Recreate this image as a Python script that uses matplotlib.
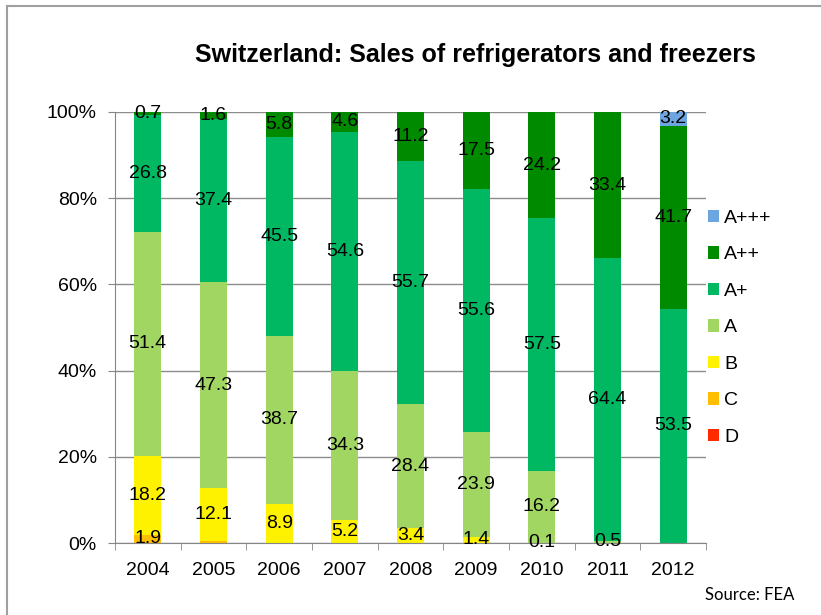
import matplotlib
matplotlib.use("Agg")
import matplotlib.pyplot as plt
from matplotlib.patches import Patch
from matplotlib.lines import Line2D
import numpy as np

plt.rcParams['font.family'] = ['Liberation Sans', 'DejaVu Sans']

years = ["2004", "2005", "2006", "2007", "2008", "2009", "2010", "2011", "2012"]
classes = ["D", "C", "B", "A", "A+", "A++", "A+++"]

# sales share per class (values as printed on the chart, nan = not present)
d_vals = [np.nan] * 9
c_vals = [1.9, 0.5, np.nan, np.nan, np.nan, np.nan, np.nan, np.nan, np.nan]
b_vals = [18.2, 12.1, 8.9, 5.2, 3.4, 1.4, 0.1, np.nan, np.nan]
a_vals = [51.4, 47.3, 38.7, 34.3, 28.4, 23.9, 16.2, 0.5, np.nan]
ap_vals = [26.8, 37.4, 45.5, 54.6, 55.7, 55.6, 57.5, 64.4, 53.5]
app_vals = [0.7, 1.6, 5.8, 4.6, 11.2, 17.5, 24.2, 33.4, 41.7]
appp_vals = [np.nan, np.nan, np.nan, np.nan, np.nan, np.nan, np.nan, np.nan, 3.2]
# small segment without a printed label
no_label = {("C", "2005")}

colors = {"D": "#FF2A00", "C": "#FFBF00", "B": "#FFF200", "A": "#A2D662",
          "A+": "#00B862", "A++": "#008A00", "A+++": "#6CA5DF"}

series = [d_vals, c_vals, b_vals, a_vals, ap_vals, app_vals, appp_vals]
raw = np.nan_to_num(np.array(series, dtype=float))
totals = raw.sum(axis=0)
shares = raw / totals * 100

fig = plt.figure(figsize=(8.21, 6.15), dpi=100)
ax = fig.add_axes([0.140, 0.117, 0.720, 0.701])

x = np.arange(len(years))
bottom = np.zeros(len(years))
for name, vals, sh in zip(classes, series, shares):
    ax.bar(x, sh, 0.41, bottom=bottom, color=colors[name], zorder=2)
    for i, v in enumerate(vals):
        if np.isnan(v) or (name, years[i]) in no_label:
            continue
        ax.text(x[i], bottom[i] + sh[i] / 2, f"{v:.1f}", ha="center",
                va="center", fontsize=14, color="black", zorder=3)
    bottom += sh

ax.set_xlim(-0.5, len(years) - 0.5)
ax.set_ylim(0, 100)
ax.set_yticks(np.arange(0, 101, 20))
ax.set_yticklabels([f"{t}%" for t in range(0, 101, 20)], fontsize=14)
ax.set_xticks(x)
ax.set_xticklabels(years, fontsize=14)
ax.set_xticks(np.arange(-0.5, len(years)), minor=True)
ax.tick_params(axis="x", which="major", length=0, pad=14)
ax.tick_params(axis="x", which="minor", length=5, color="#868686")
ax.tick_params(axis="y", length=5, color="#868686", pad=8)
ax.yaxis.grid(True, color="#8c8c8c", linewidth=1, zorder=0)
ax.set_axisbelow(True)
for s in ["top", "right"]:
    ax.spines[s].set_visible(False)
for s in ["left", "bottom"]:
    ax.spines[s].set_color("#868686")

fig.text(0.5786, 0.91, "Switzerland: Sales of refrigerators and freezers",
         ha="center", va="center", fontsize=18, fontweight="bold")

handles = [Patch(facecolor=colors[c], edgecolor="none") for c in classes[::-1]]
fig.legend(handles, classes[::-1], loc="center left",
           bbox_to_anchor=(0.862, 0.467), frameon=False, fontsize=14,
           handlelength=0.6, handleheight=0.6, handletextpad=0.25,
           labelspacing=1.0, borderpad=0, borderaxespad=0)

fig.text(0.968, 0.033, "Source: FEA", ha="right", va="center",
         fontsize=12, family=["Lato", "DejaVu Sans"])

# outer chart frame (top and left edges visible)
fig.add_artist(Line2D([0.0085, 0.0085], [0, 0.991], transform=fig.transFigure,
                      color="#a0a0a0", linewidth=1.5))
fig.add_artist(Line2D([0.0085, 1], [0.991, 0.991], transform=fig.transFigure,
                      color="#a0a0a0", linewidth=1.5))

fig.savefig("out.png", dpi=100)
